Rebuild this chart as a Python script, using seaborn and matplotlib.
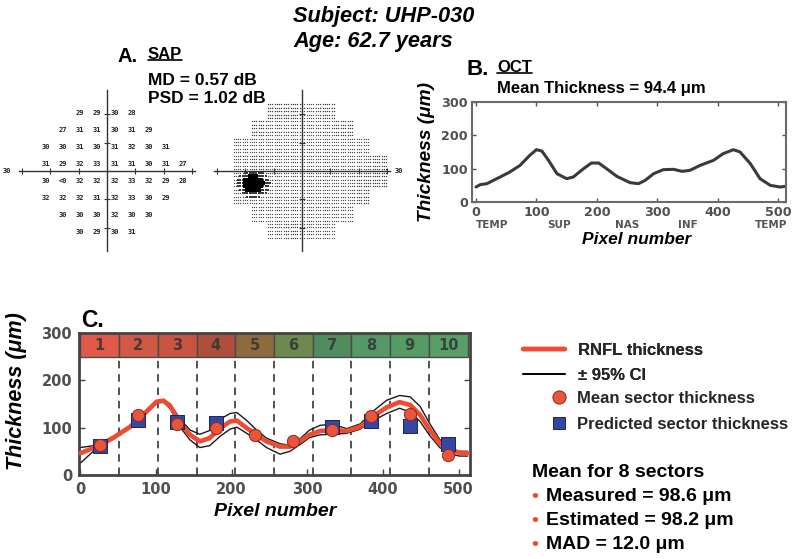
import numpy as np
import pandas as pd
import matplotlib
matplotlib.use("Agg")
import matplotlib.pyplot as plt
import seaborn as sns
from matplotlib.lines import Line2D
from matplotlib.transforms import blended_transform_factory

# ---------------- data ----------------
subject_id = "UHP-030"
subject_age = "62.7"
sap_md = "0.57"
sap_psd = "1.02"
oct_mean_thickness = "94.4"

# SAP 24-2 threshold values (dB), rows top->bottom, columns left->right (degrees)
sap_rows = [21, 15, 9, 3, -3, -9, -15, -21]
sap_cols = [-21, -15, -9, -3, 3, 9, 15, 21, 27]
sap_row_p21 = [None, None, "29", "29", "30", "28", None, None, None]
sap_row_p15 = [None, "27", "31", "31", "30", "31", "29", None, None]
sap_row_p9 = ["30", "30", "31", "30", "31", "32", "30", "31", None]
sap_row_p3 = ["31", "29", "32", "33", "31", "31", "30", "31", "27"]
sap_row_m3 = ["30", "<0", "32", "32", "32", "33", "32", "29", "28"]
sap_row_m9 = ["32", "32", "32", "31", "32", "33", "30", "29", None]
sap_row_m15 = [None, "30", "30", "30", "32", "30", "30", None, None]
sap_row_m21 = [None, None, "30", "29", "30", "31", None, None, None]
sap_axis_label = "30"

# OCT thickness profile (panel B)
oct_pixel = [0, 7, 18, 40, 56, 73, 89, 100, 109, 120, 134, 150, 161, 178, 191, 203,
             216, 233, 255, 269, 280, 294, 310, 327, 341, 354, 371, 393, 409, 426,
             437, 454, 470, 487, 503, 512]
oct_thickness = [45, 52, 55, 75, 90, 110, 140, 157, 153, 125, 85, 70, 75, 100, 117, 117,
                 100, 77, 58, 55, 65, 85, 97, 98, 92, 95, 110, 125, 145, 157,
                 150, 115, 70, 50, 45, 47]
oct_region_pixel = [26, 137, 250, 351, 488]
oct_region_names = ["TEMP", "SUP", "NAS", "INF", "TEMP"]

# RNFL thickness with 95% CI (panel C)
rnfl_pixel = [0, 22, 44, 66, 83, 101, 110, 119, 132, 145, 158, 171, 185, 198, 207, 220,
              233, 246, 264, 277, 290, 303, 317, 334, 352, 370, 387, 405, 422, 436,
              449, 462, 475, 488, 501, 512]
rnfl_thickness = [46, 60, 79, 102, 127, 155, 157, 145, 109, 85, 71, 78, 99, 113, 115, 99,
                  85, 71, 60, 60, 71, 85, 93, 95, 93, 102, 124, 143, 154, 148,
                  127, 95, 67, 53, 47, 46]
rnfl_upper = [58, 63, 82, 105, 130, 157, 159, 150, 118, 95, 86, 94, 118, 130, 132, 115,
              95, 78, 66, 63, 76, 95, 105, 107, 98, 108, 135, 158, 168, 165,
              145, 108, 75, 57, 50, 50]
rnfl_lower = [25, 57, 76, 99, 124, 152, 154, 140, 101, 74, 58, 62, 82, 97, 101, 88,
              74, 58, 44, 50, 64, 79, 85, 86, 88, 97, 115, 130, 141, 133,
              113, 83, 58, 45, 40, 40]

scan_width = 512
sector_labels = ["1", "2", "3", "4", "5", "6", "7", "8", "9", "10"]
sector_colors = ["#e2594a", "#d05945", "#c85441", "#ae4f3e", "#8e6b3e",
                 "#6e894e", "#4f8c5e", "#559a66", "#569b66", "#5a9e68"]
sector_mean = [63, 127, 107, 100, 85, 72, 96, 125, 128, 42]
sector_pred = [61, 116, 113, 110, None, None, 102, 114, 104, 66]

summary_measured = "98.6"
summary_estimated = "98.2"
summary_mad = "12.0"

# ---------------- style ----------------
sns.set_theme(style="white")
plt.rcParams["font.family"] = ["Liberation Sans", "DejaVu Sans"]
plt.rcParams["axes.unicode_minus"] = False

W, H = 800, 559
fig = plt.figure(figsize=(8, 5.59), dpi=100)
fig.patch.set_facecolor("white")


def fx(x):
    return x / W


def fy(y):
    return 1 - y / H


def box(l, t, r, b):
    return [l / W, 1 - b / H, (r - l) / W, (b - t) / H]


TXT = dict(weight="bold", color="black")

# ---------------- titles ----------------
fig.text(fx(293), fy(22), f"Subject: {subject_id}", fontsize=15.7, style="italic", va="baseline", **TXT)
fig.text(fx(293), fy(47), f"Age: {subject_age} years", fontsize=15.7, style="italic", va="baseline", **TXT)

fig.text(fx(117), fy(62), "A.", fontsize=14.5, va="baseline", **TXT)
t_sap = fig.text(fx(148), fy(59), "SAP", fontsize=12, va="baseline", **TXT)
fig.text(fx(148), fy(85), f"MD = {sap_md} dB", fontsize=12.5, va="baseline", **TXT)
fig.text(fx(148), fy(103), f"PSD = {sap_psd} dB", fontsize=12.5, va="baseline", **TXT)

fig.text(fx(467), fy(75), "B.", fontsize=16, va="baseline", **TXT)
t_oct = fig.text(fx(497), fy(72), "OCT", fontsize=12, va="baseline", **TXT)
fig.text(fx(497), fy(93), f"Mean Thickness = {oct_mean_thickness} μm", fontsize=12, va="baseline", **TXT)

fig.text(fx(81), fy(327), "C.", fontsize=16.5, va="baseline", **TXT)

# ---------------- SAP panels ----------------
sap_values = [sap_row_p21, sap_row_p15, sap_row_p9, sap_row_p3,
              sap_row_m3, sap_row_m9, sap_row_m15, sap_row_m21]


def sap_axes(cx):
    ax = fig.add_axes(box(cx - 94, 171 - 94, cx + 94, 171 + 94))
    ax.set_xlim(-33, 33)
    ax.set_ylim(-33, 33)
    ax.patch.set_alpha(0)
    for s in ["top", "right"]:
        ax.spines[s].set_visible(False)
    ax.spines["left"].set_position(("data", 0))
    ax.spines["bottom"].set_position(("data", 0))
    ax.spines["left"].set_bounds(-28, 28.4)
    ax.spines["bottom"].set_bounds(-31, 31)
    for s in ["left", "bottom"]:
        ax.spines[s].set_color("#333333")
        ax.spines[s].set_linewidth(1.0)
        ax.spines[s].set_zorder(5)
    ax.set_xticks([-30, -20, -10, 10, 20, 30])
    ax.set_yticks([-20, -10, 10, 20])
    ax.tick_params(direction="inout", length=4, width=0.8, colors="#333333",
                   labelbottom=False, labelleft=False, bottom=True, left=True)
    return ax


axA1 = sap_axes(107)
for r, row in zip(sap_rows, sap_values):
    for c, v in zip(sap_cols, row):
        if v is not None:
            axA1.text(c - 0.4, r - 0.5, v, fontsize=5, family="DejaVu Sans Mono",
                      weight="bold", ha="center", va="center", color="#222222")
axA1.text(-35, 0, sap_axis_label, fontsize=5, family="DejaVu Sans Mono", weight="bold",
          ha="center", va="center", color="#222222", clip_on=False)

# grayscale map derived from the threshold values
axA2 = sap_axes(302)
gx, gy = np.meshgrid(np.arange(-29.6, 30.0, 0.8), np.arange(-23.4, 24.0, 1.2))
gx, gy = gx.ravel(), gy.ravel()
cols_arr = np.array(sap_cols)
rows_arr = np.array(sap_rows)
recs = []
bs = None
for ri, row in enumerate(sap_values):
    for ci, v in enumerate(row):
        if v == "<0":
            bs = (sap_cols[ci], sap_rows[ri])
for x, y in zip(gx, gy):
    ci = int(np.argmin(np.abs(cols_arr - x)))
    ri = int(np.argmin(np.abs(rows_arr - y)))
    if abs(cols_arr[ci] - x) > 3 or abs(rows_arr[ri] - y) > 3:
        continue
    v = sap_values[ri][ci]
    if v is None:
        continue
    d = np.hypot((x - (bs[0] - 2)) * 0.85, y - (bs[1] - 1.5))
    if d < 3.0:
        kind = "blind"
    elif d < 5.0:
        kind = "halo"
    elif v != "<0" and int(v) <= 29:
        kind = "mid"
    else:
        kind = "light"
    recs.append((x, y, kind))
gdf = pd.DataFrame(recs, columns=["x", "y", "kind"])
styles = {"light": (0.85, "#4a4a4a", "o"), "mid": (1.0, "#404040", "o"),
          "halo": (2.2, "#3a3a3a", "s"), "blind": (5.5, "#000000", "s")}
for kind, (s, col, mk) in styles.items():
    sub = gdf[gdf["kind"] == kind]
    sns.scatterplot(data=sub, x="x", y="y", s=s, color=col, marker=mk,
                    linewidth=0, ax=axA2, legend=False)
axA2.set_xlabel("")
axA2.set_ylabel("")
axA2.text(34, 0, sap_axis_label, fontsize=5, family="DejaVu Sans Mono", weight="bold",
          ha="center", va="center", color="#222222", clip_on=False)

# ---------------- panel B (OCT) ----------------
TICK_COLOR = "#4f4f4f"


def style_ticks(ax, size):
    for lab in ax.get_xticklabels() + ax.get_yticklabels():
        lab.set_fontfamily("DejaVu Sans")
        lab.set_fontweight("bold")
        lab.set_fontsize(size)
        lab.set_color(TICK_COLOR)


axB = fig.add_axes(box(472, 102, 786, 202))
sns.lineplot(x=oct_pixel, y=oct_thickness, ax=axB, color="#3a3a3a", lw=2.2)
axB.set_xlim(-6.6, 513)
axB.set_ylim(0, 300)
axB.set_xticks([0, 100, 200, 300, 400, 500])
axB.set_yticks([0, 100, 200, 300])
axB.tick_params(direction="in", length=3, width=1, color="#555555", top=True, right=True,
                bottom=True, left=True, pad=3)
style_ticks(axB, 9.2)
for s in axB.spines.values():
    s.set_color("#6a6a6a")
    s.set_linewidth(1.5)
axB.set_xlabel("")
axB.set_ylabel("")
trB = blended_transform_factory(axB.transData, axB.transAxes)
for px_, name in zip(oct_region_pixel, oct_region_names):
    axB.text(px_, -0.23, name, transform=trB, ha="center", va="center", fontsize=7.5,
             family="DejaVu Sans", weight="bold", color="#555555", clip_on=False)
fig.text(fx(427), fy(152), "Thickness (μm)", rotation=90, ha="center", va="center",
         fontsize=13.8, style="italic", **TXT)
fig.text(fx(637), fy(240), "Pixel number", ha="center", va="center",
         fontsize=12.5, style="italic", **TXT)

# ---------------- panel C ----------------
axC = fig.add_axes(box(79, 333, 470, 475))
sector_w = scan_width / len(sector_labels)
sector_centers = [sector_w * (i + 0.5) for i in range(len(sector_labels))]
sector_edges = [sector_w * i for i in range(1, len(sector_labels))]

axC.bar(sector_centers, 50, bottom=250, width=sector_w, color=sector_colors,
        edgecolor="#4a4a4a", linewidth=1.0, zorder=1)
for xc, lab in zip(sector_centers, sector_labels):
    axC.text(xc, 274, lab, ha="center", va="center", fontsize=10.5, family="DejaVu Sans",
             weight="bold", color="#333333", alpha=0.85, zorder=2)
axC.vlines(sector_edges, 0, 250, colors="#333333", linestyles=(0, (4.5, 3.5)), lw=1.2, zorder=1)

sns.lineplot(x=rnfl_pixel, y=rnfl_upper, ax=axC, color="#1a1a1a", lw=1.0, zorder=2)
sns.lineplot(x=rnfl_pixel, y=rnfl_lower, ax=axC, color="#1a1a1a", lw=1.0, zorder=2)
sns.lineplot(x=rnfl_pixel, y=rnfl_thickness, ax=axC, color="#f04a32", lw=3.3, zorder=3)

pred_df = pd.DataFrame({"x": sector_centers, "y": sector_pred}).dropna()
mean_df = pd.DataFrame({"x": sector_centers, "y": sector_mean})
sns.scatterplot(data=pred_df, x="x", y="y", marker="s", s=90, color="#3547a3",
                edgecolor="#1c2460", linewidth=0.7, ax=axC, zorder=4, legend=False)
sns.scatterplot(data=mean_df, x="x", y="y", marker="o", s=78, color="#e8553d",
                edgecolor="#8a2a1a", linewidth=0.7, ax=axC, zorder=5, legend=False)

axC.set_xlim(-1.7, 515)
axC.set_ylim(0, 300)
axC.set_xticks([0, 100, 200, 300, 400, 500])
axC.set_yticks([0, 100, 200, 300])
axC.tick_params(direction="in", length=4, width=1, color="#444444", top=False, right=True,
                bottom=True, left=True, pad=5)
style_ticks(axC, 10.5)
for s in axC.spines.values():
    s.set_color("#444444")
    s.set_linewidth(2.0)
axC.set_xlabel("")
axC.set_ylabel("")
fig.text(fx(17), fy(391), "Thickness (μm)", rotation=90, ha="center", va="center",
         fontsize=15.5, style="italic", **TXT)
fig.text(fx(275), fy(511), "Pixel number", ha="center", va="center",
         fontsize=14, style="italic", **TXT)

# ---------------- legends ----------------
prop = dict(family="Liberation Sans", weight="bold", size=12)
h1 = [Line2D([], [], color="#f04a32", lw=3.2), Line2D([], [], color="black", lw=1.2)]
leg1 = fig.legend(h1, ["RNFL thickness", "± 95% CI"], loc="upper left",
                  bbox_to_anchor=(fx(523), fy(343)), frameon=False, borderpad=0,
                  borderaxespad=0, handlelength=2.52, handletextpad=0.78,
                  labelspacing=0.6, prop=prop)
h2 = [Line2D([], [], marker="o", ls="none", ms=9.5, mfc="#e8553d", mec="#8a2a1a", mew=0.7),
      Line2D([], [], marker="s", ls="none", ms=9, mfc="#3547a3", mec="#1c2460", mew=0.7)]
leg2 = fig.legend(h2, ["Mean sector thickness", "Predicted sector thickness"], loc="upper left",
                  bbox_to_anchor=(fx(552), fy(391)), frameon=False, borderpad=0,
                  borderaxespad=0, handlelength=0.84, handletextpad=0.66,
                  labelspacing=0.65, prop=prop)
fig.add_artist(leg1)

n_pred = int(pd.Series(sector_pred).notna().sum())
fig.text(fx(532), fy(477), f"Mean for {n_pred} sectors", fontsize=14, va="baseline", **TXT)
for yb, line in zip([501, 525, 549], [f"Measured = {summary_measured} μm",
                                     f"Estimated = {summary_estimated} μm",
                                     f"MAD = {summary_mad} μm"]):
    fig.text(fx(531), fy(yb), "•", fontsize=14, va="baseline", color="#f04a32", weight="bold")
    fig.text(fx(546), fy(yb), line, fontsize=14, va="baseline", **TXT)

# underlines for "SAP" and "OCT"
fig.canvas.draw()
rend = fig.canvas.get_renderer()
for t in [t_sap, t_oct]:
    bb = t.get_window_extent(rend)
    y0 = bb.y0 + 2.2
    fig.add_artist(Line2D([bb.x0 / W, bb.x1 / W], [y0 / H, y0 / H], color="black", lw=1.2,
                          transform=fig.transFigure))

fig.savefig("out.png", dpi=100, facecolor="white")
